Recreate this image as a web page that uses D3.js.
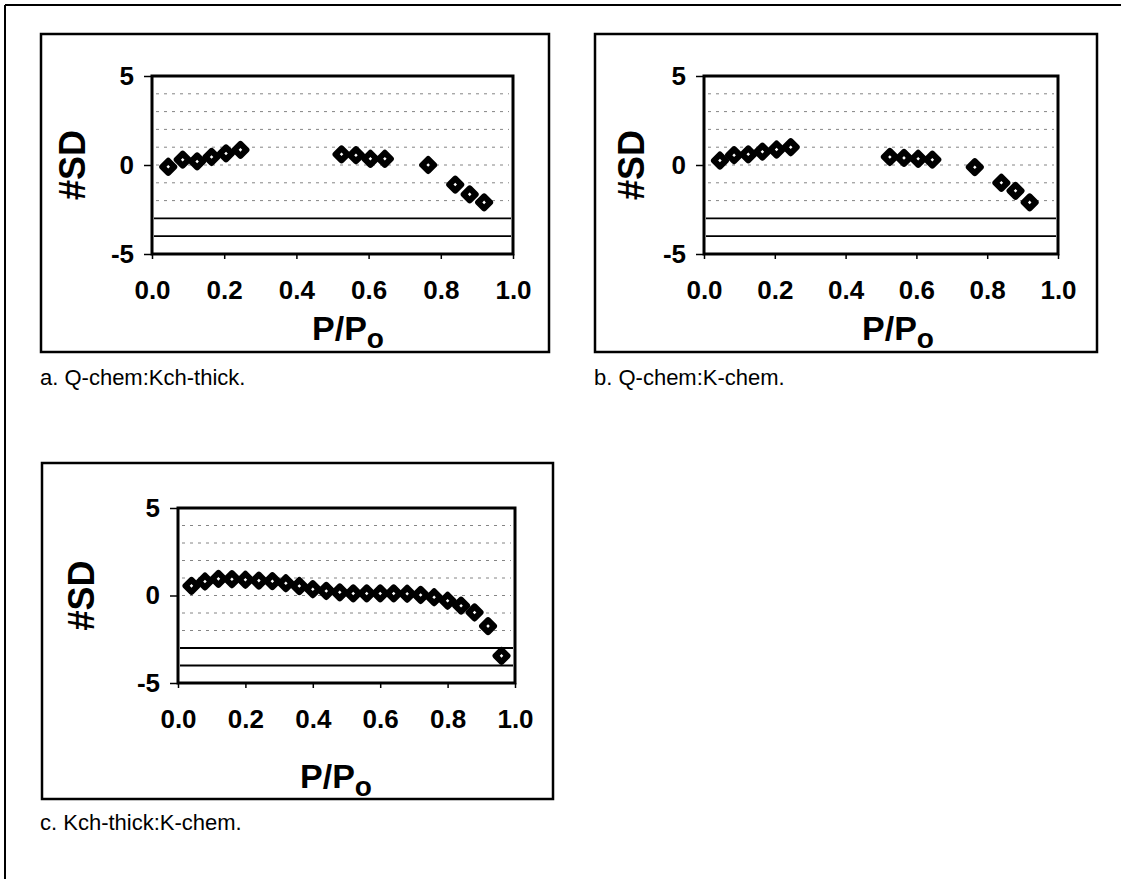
<!DOCTYPE html>
<html><head><meta charset="utf-8">
<script src="https://cdn.jsdelivr.net/npm/d3@7"></script>
<style>
body{margin:0;background:#fff}
text{font-family:"Liberation Sans",Arial,sans-serif}
</style>
</head><body>
<svg id="c" width="1121" height="879"></svg>
<script>
// ---- data ----
const xTicks = [0.0, 0.2, 0.4, 0.6, 0.8, 1.0];
const yTicks = [-5, 0, 5];
const dottedGrid = [4, 3, 2, 1, 0, -1, -2];
const solidRefs = [-3, -4];

const xA = [0.045, 0.085, 0.125, 0.165, 0.205, 0.245, 0.525, 0.565, 0.605, 0.645, 0.765, 0.84, 0.88, 0.92];
const yA = [-0.1, 0.3, 0.2, 0.45, 0.65, 0.85, 0.6, 0.55, 0.35, 0.35, 0.0, -1.1, -1.65, -2.1];

const xB = [0.045, 0.085, 0.125, 0.165, 0.205, 0.245, 0.525, 0.565, 0.605, 0.645, 0.765, 0.84, 0.88, 0.92];
const yB = [0.25, 0.55, 0.6, 0.75, 0.87, 1.0, 0.45, 0.4, 0.35, 0.3, -0.12, -1.0, -1.45, -2.1];

const xC = [0.04, 0.08, 0.12, 0.16, 0.20, 0.24, 0.28, 0.32, 0.36, 0.40, 0.44, 0.48,
            0.52, 0.56, 0.60, 0.64, 0.68, 0.72, 0.76, 0.80, 0.84, 0.88, 0.92, 0.96];
const yC = [0.55, 0.8, 0.95, 0.93, 0.9, 0.85, 0.82, 0.7, 0.54, 0.36, 0.26, 0.18,
            0.12, 0.12, 0.12, 0.12, 0.1, 0.03, -0.1, -0.3, -0.58, -0.97, -1.75, -3.45];

const captions = ["a. Q-chem:Kch-thick.", "b. Q-chem:K-chem.", "c. Kch-thick:K-chem."];
const yLabel = "#SD";

// ---- layout ----
const panels = [
  {xs:xA, ys:yA, cap:captions[0], frame:[41,34,508,318], plot:[152,513,76,254], ylx:72, xlab:[348,340], capPos:[40,385]},
  {xs:xB, ys:yB, cap:captions[1], frame:[595,34,502,318], plot:[704,1058,76,254], ylx:631, xlab:[898,340], capPos:[594,385]},
  {xs:xC, ys:yC, cap:captions[2], frame:[42,463,511,336], plot:[178,515,508,683], ylx:81, xlab:[336,788], capPos:[40,830]}
];

const svg = d3.select("#c");
svg.append("rect").attr("width",1121).attr("height",879).attr("fill","#fff");
// outer border (top and left edges only)
svg.append("line").attr("x1",5).attr("x2",1121).attr("y1",5).attr("y2",5)
  .attr("stroke","#000").attr("stroke-width",2);
svg.append("line").attr("x1",5).attr("x2",5).attr("y1",5).attr("y2",879)
  .attr("stroke","#000").attr("stroke-width",2);

panels.forEach(p => {
  const [fx,fy,fw,fh] = p.frame;
  svg.append("rect").attr("x",fx).attr("y",fy).attr("width",fw).attr("height",fh)
    .attr("fill","#fff").attr("stroke","#000").attr("stroke-width",2.5);

  const [x0,x1,y0,y1] = p.plot;
  const x = d3.scaleLinear().domain([0,1]).range([x0,x1]);
  const y = d3.scaleLinear().domain([-5,5]).range([y1,y0]);
  const g = svg.append("g");

  // dotted gridlines
  g.selectAll("line.dg").data(dottedGrid).join("line")
    .attr("x1", x0+4).attr("x2", x1-4)
    .attr("y1", d=>y(d)).attr("y2", d=>y(d))
    .attr("stroke","#777").attr("stroke-width",0.9).attr("stroke-dasharray","3,5");
  // solid refs
  g.selectAll("line.sr").data(solidRefs).join("line")
    .attr("x1", x0+2).attr("x2", x1-2)
    .attr("y1", d=>y(d)).attr("y2", d=>y(d))
    .attr("stroke","#000").attr("stroke-width",1.8);

  // plot frame
  g.append("rect").attr("x",x0).attr("y",y0).attr("width",x1-x0).attr("height",y1-y0)
    .attr("fill","none").attr("stroke","#000").attr("stroke-width",3);

  // axes
  const ax = g.append("g").attr("transform",`translate(0,${y1})`)
    .call(d3.axisBottom(x).tickValues(xTicks).tickFormat(d3.format(".1f")).tickSize(5).tickPadding(22));
  ax.select(".domain").remove();
  ax.selectAll("line").attr("stroke","#000").attr("stroke-width",1.5);
  ax.selectAll("text").attr("font-size",26).attr("font-weight","bold").attr("fill","#000")
    .attr("font-family",'"Liberation Sans",Arial,sans-serif');

  const ay = g.append("g").attr("transform",`translate(${x0},0)`)
    .call(d3.axisLeft(y).tickValues(yTicks).tickFormat(d=>String(d)).tickSize(8).tickPadding(10));
  ay.select(".domain").remove();
  ay.selectAll("line").attr("stroke","#000").attr("stroke-width",1.5);
  ay.selectAll("text").attr("font-size",26).attr("font-weight","bold").attr("fill","#000")
    .attr("font-family",'"Liberation Sans",Arial,sans-serif');

  // markers
  const sym = d3.symbol().type(d3.symbolSquare).size(72);
  g.selectAll("path.m").data(p.xs.map((v,i)=>[v,p.ys[i]])).join("path")
    .attr("d", sym)
    .attr("transform", d=>`translate(${x(d[0])},${y(d[1])}) rotate(45)`)
    .attr("fill","#fff").attr("stroke","#000").attr("stroke-width",6)
    .attr("stroke-linejoin","round");

  // y label
  svg.append("text").attr("transform",`translate(${p.ylx},${(y0+y1)/2}) rotate(-90)`)
    .attr("text-anchor","middle").attr("dominant-baseline","central")
    .attr("font-size",36).attr("font-weight","bold").text(yLabel);

  // x label P/Po
  const xl = svg.append("text").attr("x",p.xlab[0]).attr("y",p.xlab[1])
    .attr("text-anchor","middle").attr("font-size",34).attr("font-weight","bold");
  xl.append("tspan").text("P/P");
  xl.append("tspan").attr("font-size",28).attr("dy",8).text("o");

  // caption
  svg.append("text").attr("x",p.capPos[0]).attr("y",p.capPos[1])
    .attr("font-size",22).text(p.cap);
});
</script>
</body></html>
